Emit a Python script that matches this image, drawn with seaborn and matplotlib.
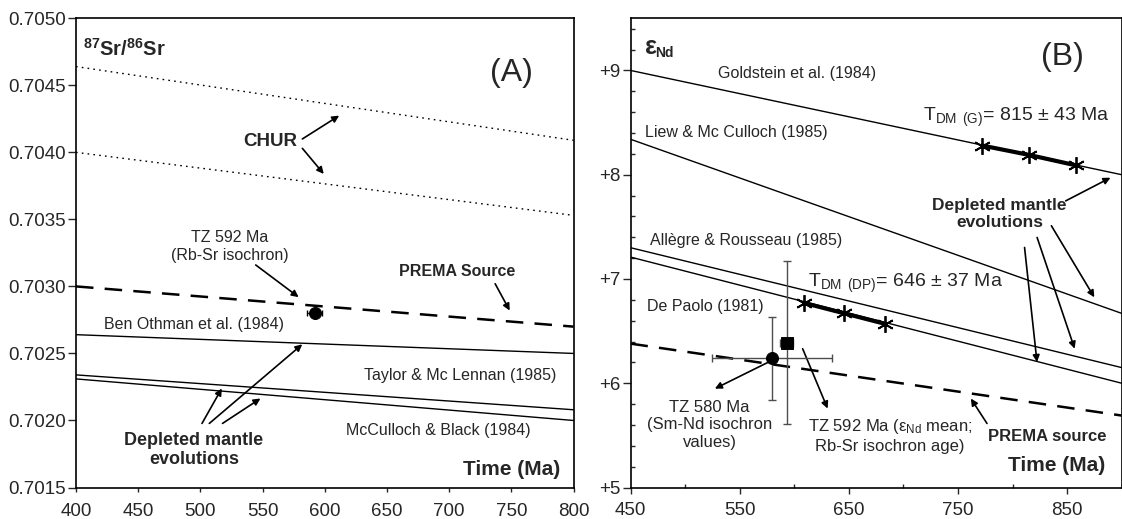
import matplotlib
matplotlib.use('Agg')
import matplotlib.pyplot as plt
from matplotlib.ticker import MultipleLocator, FixedLocator, FormatStrFormatter, FuncFormatter
import seaborn as sns

# Panel A: 87Sr/86Sr evolution lines, values at the two ends of the axis
SR_TIME = [400, 800]
SR_CHUR_HIGH = [0.70464, 0.70409]
SR_CHUR_LOW = [0.70400, 0.70353]
SR_PREMA = [0.70300, 0.70270]
SR_BEN_OTHMAN = [0.70264, 0.70250]
SR_TAYLOR = [0.70234, 0.70208]
SR_MCCULLOCH = [0.70231, 0.70200]
# TZ sample (Rb-Sr isochron)
SR_TZ_AGE = [592]
SR_TZ_RATIO = [0.70280]
SR_TZ_AGE_ERR = [6]

# Panel B: epsilon Nd evolution lines
ND_TIME = [450, 900]
ND_GOLDSTEIN = [9.00, 8.00]
ND_LIEW = [8.34, 6.67]
ND_ALLEGRE = [7.30, 6.15]
ND_DEPAOLO = [7.21, 6.00]
ND_PREMA = [6.38, 5.69]
# model ages (age - err, age, age + err) on the DM curves
TDM_G_AGES = [772, 815, 858]
TDM_G_EPS = [8.28, 8.19, 8.09]
TDM_DP_AGES = [609, 646, 683]
TDM_DP_EPS = [6.77, 6.67, 6.57]
# TZ samples
ND_SMND_AGE = [580]
ND_SMND_EPS = [6.24]
ND_SMND_AGE_ERR = [55]
ND_SMND_EPS_ERR = [0.40]
ND_MEAN_AGE = [593]
ND_MEAN_EPS = [6.39]
ND_MEAN_AGE_ERR = [6]
ND_MEAN_EPS_ERR = [0.78]

ND_MAJOR = [450, 550, 650, 750, 850]
ND_MINOR = [500, 600, 700, 800, 900]


def arrow(ax, tail, head, lw=1.2):
    ax.annotate('', xy=head, xytext=tail,
                arrowprops=dict(arrowstyle='-|>', color='k', lw=lw,
                                mutation_scale=10, shrinkA=0, shrinkB=0))


sns.set_style('ticks')
plt.rcParams['font.family'] = ['Liberation Sans', 'DejaVu Sans']
plt.rcParams['mathtext.fontset'] = 'custom'
plt.rcParams['mathtext.rm'] = 'Liberation Sans'
plt.rcParams['mathtext.bf'] = 'Liberation Sans:bold'
plt.rcParams['mathtext.it'] = 'Liberation Sans:italic'

W, H = 1122, 519
fig = plt.figure(figsize=(W / 100, H / 100), dpi=100)
ax_a = fig.add_axes([76 / W, 31.5 / H, 497.5 / W, 469.2 / H])
ax_b = fig.add_axes([630.5 / W, 31.5 / H, 491.2 / W, 469.2 / H])

# ---------------- Panel A ----------------
sns.lineplot(x=SR_TIME, y=SR_CHUR_HIGH, ax=ax_a, color='k', lw=1.0, linestyle=(0, (1.2, 3)))
sns.lineplot(x=SR_TIME, y=SR_CHUR_LOW, ax=ax_a, color='k', lw=1.0, linestyle=(0, (1.2, 3)))
sns.lineplot(x=SR_TIME, y=SR_PREMA, ax=ax_a, color='k', lw=1.8, linestyle=(0, (7, 4.5)))
for vals in (SR_BEN_OTHMAN, SR_TAYLOR, SR_MCCULLOCH):
    sns.lineplot(x=SR_TIME, y=vals, ax=ax_a, color='k', lw=1.0)

ax_a.errorbar(SR_TZ_AGE, SR_TZ_RATIO, xerr=SR_TZ_AGE_ERR, fmt='none',
              ecolor='k', elinewidth=1, capsize=2.5, zorder=4)
sns.scatterplot(x=SR_TZ_AGE, y=SR_TZ_RATIO, ax=ax_a, color='k', s=75,
                marker='o', edgecolor='k', zorder=5)

ax_a.set_xlim(400, 800)
ax_a.set_ylim(0.7015, 0.7050)
ax_a.xaxis.set_major_locator(MultipleLocator(50))
ax_a.yaxis.set_major_locator(MultipleLocator(0.0005))
ax_a.yaxis.set_major_formatter(FormatStrFormatter('%.4f'))
ax_a.tick_params(axis='x', direction='out', length=3, width=1, pad=8, labelsize=13.5)
ax_a.tick_params(axis='y', direction='out', length=6, width=1, pad=1, labelsize=13.5)

ax_a.text(405.6, 0.70472, r'$\mathbf{^{87}Sr/^{86}Sr}$', fontsize=14.5, ha='left', va='baseline')
ax_a.text(750, 0.70459, '(A)', fontsize=23, ha='center', va='center')
ax_a.text(556, 0.70408, 'CHUR', fontsize=13.5, fontweight='bold', ha='center', va='center')
arrow(ax_a, (582, 0.70410), (611.6, 0.704274))
arrow(ax_a, (582, 0.70403), (599.2, 0.703839))
ax_a.text(523.8, 0.70330, 'TZ 592 Ma\n(Rb-Sr isochron)', fontsize=11.5,
          ha='center', va='center', linespacing=1.25)
arrow(ax_a, (544.5, 0.70316), (579, 0.70292))
ax_a.text(706.3, 0.70311, 'PREMA Source', fontsize=11.5, fontweight='bold',
          ha='center', va='center')
arrow(ax_a, (737, 0.70302), (748.7, 0.70282))
ax_a.text(494.9, 0.702717, 'Ben Othman et al. (1984)', fontsize=11.5, ha='center', va='center')
ax_a.text(709, 0.702338, 'Taylor & Mc Lennan (1985)', fontsize=11.5, ha='center', va='center')
ax_a.text(691, 0.701928, 'McCulloch & Black (1984)', fontsize=11.5, ha='center', va='center')
ax_a.text(494.9, 0.70178, 'Depleted mantle\nevolutions', fontsize=13, fontweight='bold',
          ha='center', va='center', linespacing=1.15)
arrow(ax_a, (501.3, 0.701978), (517.2, 0.702239))
arrow(ax_a, (507.2, 0.701978), (581.9, 0.702568))
arrow(ax_a, (517.8, 0.701978), (548.3, 0.702164))
ax_a.text(789, 0.701632, 'Time (Ma)', fontsize=15, fontweight='bold', ha='right', va='center')

# ---------------- Panel B ----------------
for vals in (ND_GOLDSTEIN, ND_LIEW, ND_ALLEGRE, ND_DEPAOLO):
    sns.lineplot(x=ND_TIME, y=vals, ax=ax_b, color='k', lw=1.0)
sns.lineplot(x=ND_TIME, y=ND_PREMA, ax=ax_b, color='k', lw=1.8, linestyle=(0, (7, 4.5)))

for ages, eps in ((TDM_G_AGES, TDM_G_EPS), (TDM_DP_AGES, TDM_DP_EPS)):
    sns.lineplot(x=ages, y=eps, ax=ax_b, color='k', lw=3,
                 marker=(6, 2, 0), markersize=12, markeredgewidth=1.3,
                 markeredgecolor='k', markerfacecolor='k', zorder=5)

ax_b.errorbar(ND_SMND_AGE, ND_SMND_EPS, xerr=ND_SMND_AGE_ERR, yerr=ND_SMND_EPS_ERR,
              fmt='none', ecolor='0.3', elinewidth=1, capsize=3, zorder=4)
ax_b.errorbar(ND_MEAN_AGE, ND_MEAN_EPS, xerr=ND_MEAN_AGE_ERR, yerr=ND_MEAN_EPS_ERR,
              fmt='none', ecolor='0.3', elinewidth=1, capsize=3, zorder=4)
sns.scatterplot(x=ND_SMND_AGE, y=ND_SMND_EPS, ax=ax_b, color='k', s=75,
                marker='o', edgecolor='k', zorder=5)
sns.scatterplot(x=ND_MEAN_AGE, y=ND_MEAN_EPS, ax=ax_b, color='k', s=70,
                marker='s', edgecolor='k', zorder=5)

ax_b.set_xlim(450, 900)
ax_b.set_ylim(5, 9.5)
ax_b.xaxis.set_major_locator(FixedLocator(ND_MAJOR))
ax_b.xaxis.set_minor_locator(FixedLocator(ND_MINOR))
ax_b.yaxis.set_major_locator(MultipleLocator(1))
ax_b.yaxis.set_minor_locator(MultipleLocator(0.2))
ax_b.yaxis.set_major_formatter(FuncFormatter(lambda v, p: '+%d' % round(v)))
ax_b.tick_params(axis='x', which='major', direction='out', length=4.5, width=1, pad=6, labelsize=13.5)
ax_b.tick_params(axis='y', which='major', direction='out', length=6, width=1, pad=1, labelsize=13.5)
ax_b.tick_params(which='minor', direction='in', length=3, width=1)

ax_b.text(463.3, 9.226, 'ε', fontsize=18, fontweight='bold', ha='left', va='center')
ax_b.text(473, 9.17, 'Nd', fontsize=10, fontweight='bold', ha='left', va='center')
ax_b.text(845.5, 9.125, '(B)', fontsize=23, ha='center', va='center')
ax_b.text(602.2, 8.972, 'Goldstein et al. (1984)', fontsize=11.5, ha='center', va='center')
ax_b.text(547.3, 8.403, 'Liew & Mc Culloch (1985)', fontsize=11.5, ha='center', va='center')
ax_b.text(718.1, 8.513, r'T$_\mathregular{DM}$ $_\mathregular{(G)}$= 815 ± 43 Ma', fontsize=14,
          ha='left', va='baseline')
ax_b.text(788, 7.624, 'Depleted mantle\nevolutions', fontsize=12.5, fontweight='bold',
          ha='center', va='center', linespacing=1.15)
arrow(ax_b, (848.7, 7.749), (889.7, 7.971))
arrow(ax_b, (811, 7.302), (822.4, 6.203))
arrow(ax_b, (822.5, 7.398), (856.9, 6.331))
arrow(ax_b, (835.6, 7.51), (874.9, 6.824))
ax_b.text(555.9, 7.366, 'Allègre & Rousseau (1985)', fontsize=11.5, ha='center', va='center')
ax_b.text(612.7, 6.92, r'T$_\mathregular{DM}$ $_\mathregular{(DP)}$= 646 ± 37 Ma', fontsize=14,
          ha='left', va='baseline')
ax_b.text(518.7, 6.735, 'De Paolo (1981)', fontsize=11.5, ha='center', va='center')
ax_b.text(522.4, 5.602, 'TZ 580 Ma\n(Sm-Nd isochron\nvalues)', fontsize=12,
          ha='center', va='center', linespacing=1.2)
arrow(ax_b, (576.5, 6.203), (527.3, 5.948))
ax_b.text(687.7, 5.497, 'TZ 592 Ma (ε$_\\mathregular{Nd}$ mean;\nRb-Sr isochron age)', fontsize=12,
          ha='center', va='center', linespacing=1.2)
arrow(ax_b, (607.7, 6.331), (630.6, 5.757))
ax_b.text(832.2, 5.488, 'PREMA source', fontsize=12, fontweight='bold', ha='center', va='center')
arrow(ax_b, (776.6, 5.614), (761.8, 5.853))
ax_b.text(884.9, 5.21, 'Time (Ma)', fontsize=15, fontweight='bold', ha='right', va='center')

for axis in (ax_a, ax_b):
    axis.set_xlabel('')
    axis.set_ylabel('')
    for spine in axis.spines.values():
        spine.set_linewidth(1.2)
        spine.set_color('k')

fig.savefig('out.png', dpi=100)
